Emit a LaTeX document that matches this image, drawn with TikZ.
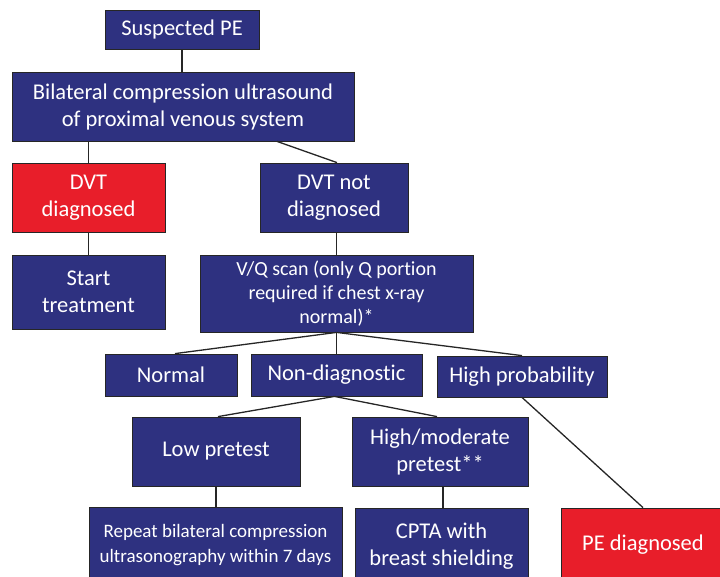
\documentclass[tikz,border=0pt]{standalone}
\usepackage{fontspec}
\setmainfont{Carlito}[Ligatures=NoCommon]
\usetikzlibrary{calc}
\definecolor{navy}{RGB}{46,49,128}
\definecolor{pered}{RGB}{232,30,42}
\begin{document}
\begin{tikzpicture}[x=1pt,y=-1pt,
 box/.style={draw=black!85, line width=0.8pt, fill=navy, text=white, inner sep=0pt, align=center, font=\fontsize{22.5}{27}\selectfont},
 redbox/.style={box, fill=pered},
 link/.style={draw=black!85, line width=1.3pt}]
\useasboundingbox (0,0) rectangle (720,576);
\clip (0,0) rectangle (720,576);
\node[box, minimum width=154pt, minimum height=39pt] (s) at (182,29.5) {Suspected PE};
\node[box, minimum width=342pt, minimum height=69pt] (b) at (183,106.5) {Bilateral compression ultrasound\\of proximal venous system};
\node[redbox, minimum width=153pt, minimum height=69pt] (dvt) at (88.5,197.5) {DVT\\diagnosed};
\node[box, minimum width=148pt, minimum height=69pt] (dvtn) at (334,197.5) {DVT not\\diagnosed};
\node[box, minimum width=153pt, minimum height=74pt] (st) at (88.5,292) {Start\\treatment};
\node[box, minimum width=273pt, minimum height=77pt, font=\fontsize{20}{24}\selectfont] (vq) at (336.5,293.5) {V/Q scan (only Q portion\\required if chest x-ray\\normal)*};
\node[box, minimum width=132pt, minimum height=42pt] (norm) at (171,375) {Normal};
\node[box, minimum width=171pt, minimum height=42pt] (nd) at (336.5,375) {Non-diagnostic};
\node[box, minimum width=170pt, minimum height=41pt] (hp) at (522,376.5) {High probability};
\node[box, minimum width=168pt, minimum height=69pt] (lp) at (216,451.5) {Low pretest};
\node[box, minimum width=176pt, minimum height=69pt] (hm) at (440,451.5) {High/moderate\\pretest**};
\node[box, minimum width=253pt, minimum height=77pt, font=\fontsize{19}{25}\selectfont] (rep) at (215.5,545.5) {Repeat bilateral compression\\ultrasonography within 7 days};
\node[box, minimum width=173pt, minimum height=76pt] (cpta) at (441.5,546) {CPTA with\\breast shielding};
\node[redbox, minimum width=164pt, minimum height=74pt] (ped) at (643,545) {PE diagnosed};
% connectors
\draw[link] (s.south) -- (s.south |- b.north);
\draw[link] (dvt.north |- b.south) -- (dvt.north);
\draw[link] ([xshift=94pt]b.south) -- ([xshift=3pt]dvtn.north);
\draw[link] (dvt.south) -- (dvt.south |- st.north);
\draw[link] (vq.north |- dvtn.south) -- (vq.north);
\draw[link] (vq.south) -- ([xshift=4pt]norm.north);
\draw[link] (vq.south) -- (nd.north);
\draw[link] (vq.south) -- (hp.north);
\draw[link] ([xshift=-2pt]nd.south) -- ([xshift=2pt]lp.north);
\draw[link] ([xshift=-2pt]nd.south) -- ([xshift=-3pt]hm.north);
\draw[link] (lp.south) -- (lp.south |- rep.north);
\draw[link] ([xshift=3pt]hm.south) -- ([xshift=3pt]hm.south |- cpta.north);
\draw[link] (hp.south) -- (ped.north);
\end{tikzpicture}
\end{document}
